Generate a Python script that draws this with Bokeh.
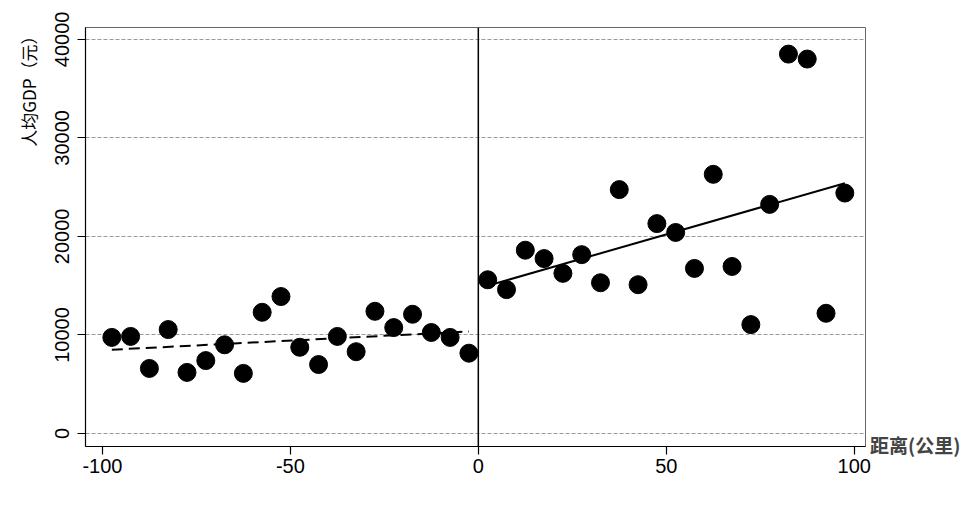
from bokeh.plotting import figure
from bokeh.models import (Range1d, Span, Title, Legend, LegendItem,
                          FixedTicker, BasicTickFormatter)
from bokeh.embed import file_html
from bokeh.resources import INLINE

# ---- data ----
x_left = [-97.5, -92.5, -87.5, -82.5, -77.5, -72.5, -67.5, -62.5, -57.5, -52.5,
          -47.5, -42.5, -37.5, -32.5, -27.5, -22.5, -17.5, -12.5, -7.5, -2.5]
gdp_left = [9750, 9850, 6600, 10550, 6200, 7400, 9000, 6100, 12300, 13900,
            8750, 7000, 9850, 8300, 12400, 10750, 12100, 10250, 9750, 8150]
x_right = [2.5, 7.5, 12.5, 17.5, 22.5, 27.5, 32.5, 37.5, 42.5, 47.5,
           52.5, 57.5, 62.5, 67.5, 72.5, 77.5, 82.5, 87.5, 92.5, 97.5]
gdp_right = [15600, 14600, 18600, 17750, 16250, 18150, 15300, 24750, 15100, 21300,
             20400, 16750, 26300, 16950, 11050, 23250, 38500, 38000, 12200, 24400]
fit_left_x = [-97.5, -2.5]
fit_left_y = [8500, 10350]
fit_right_x = [2.5, 97.5]
fit_right_y = [15000, 25400]
x_ticks = [-100, -50, 0, 50, 100]
x_tick_labels = ["-100", "-50", "0", "50", "100"]
y_ticks = [0, 10000, 20000, 30000, 40000]

y_title = "人均GDP（元）"
x_title = "距离(公里)"
legend_labels = ["人均GDP", "Fitted values", "Fitted values"]

p = figure(width=None, height=None, frame_width=780, frame_height=419,
           x_range=Range1d(-104.5, 103), y_range=Range1d(-1320, 41200),
           output_backend="svg", toolbar_location=None,
           min_border_left=85, min_border_right=0,
           min_border_top=27, min_border_bottom=60,
           background_fill_color="white", border_fill_color="white")

p.outline_line_color = "#666666"
p.outline_line_width = 1

# grid
p.xgrid.visible = False
p.ygrid.ticker = FixedTicker(ticks=y_ticks)
p.ygrid.grid_line_color = "#9a9a9a"
p.ygrid.grid_line_dash = "4 2"
p.ygrid.grid_line_width = 1

# vertical line at 0
p.add_layout(Span(location=0, dimension="height", line_color="black", line_width=1.5))

# points and fitted lines
r1 = p.scatter(x_left, gdp_left, size=18, color="black")
r2 = p.scatter(x_right, gdp_right, size=18, color="black")
l1 = p.line(fit_left_x, fit_left_y, line_color="black", line_width=2, line_dash="11 6")
l2 = p.line(fit_right_x, fit_right_y, line_color="black", line_width=2)
r_blank = p.scatter([], [], size=1, alpha=0)

# axes
tick_font = "Liberation Sans"
p.xaxis.ticker = FixedTicker(ticks=x_ticks)
p.xaxis.major_label_overrides = dict(zip(x_ticks, x_tick_labels))
p.xaxis.axis_label = None
p.yaxis.ticker = FixedTicker(ticks=y_ticks)
p.yaxis.formatter = BasicTickFormatter(use_scientific=False)
for ax in (p.xaxis[0], p.yaxis[0]):
    ax.major_label_text_font = tick_font
    ax.major_label_text_font_size = "20px"
    ax.major_label_text_color = "black"
    ax.axis_line_color = "black"
    ax.axis_line_width = 1.2
    ax.major_tick_line_color = "black"
    ax.major_tick_line_width = 1.2
    ax.major_tick_in = 0
    ax.major_tick_out = 8
    ax.minor_tick_line_color = None
p.yaxis.major_label_orientation = "vertical"
p.yaxis.major_label_standoff = 8
p.xaxis.major_label_standoff = 4

# y title at top-left
p.add_layout(Title(text=y_title, align="right", text_font="Noto Sans CJK SC",
                   text_font_size="17px", text_font_style="normal",
                   text_color="black", standoff=24), "left")

# x title at the right end of the x axis (a one-item legend in the right panel)
xlab = Legend(items=[LegendItem(label=x_title, renderers=[r_blank])],
              location=(0, -12), border_line_alpha=0, background_fill_alpha=0,
              label_text_font="Noto Sans CJK SC", label_text_font_size="19px",
              label_text_font_style="bold",
              glyph_width=0, glyph_height=18,
              label_standoff=5, padding=0, margin=0)
p.add_layout(xlab, "right")

# legend placed under the frame (offset below the x axis tick labels)
legend = Legend(items=[LegendItem(label=legend_labels[0], renderers=[r1, r2]),
                       LegendItem(label=legend_labels[1], renderers=[l1]),
                       LegendItem(label=legend_labels[2], renderers=[l2])],
                orientation="horizontal", location=(96, -66),
                border_line_alpha=0, background_fill_alpha=0,
                label_text_font=tick_font, label_text_font_size="19px",
                glyph_width=44, glyph_height=20, label_standoff=8,
                spacing=30, padding=2, margin=0)
p.add_layout(legend)

open("out.html", "w").write(file_html(p, INLINE))
